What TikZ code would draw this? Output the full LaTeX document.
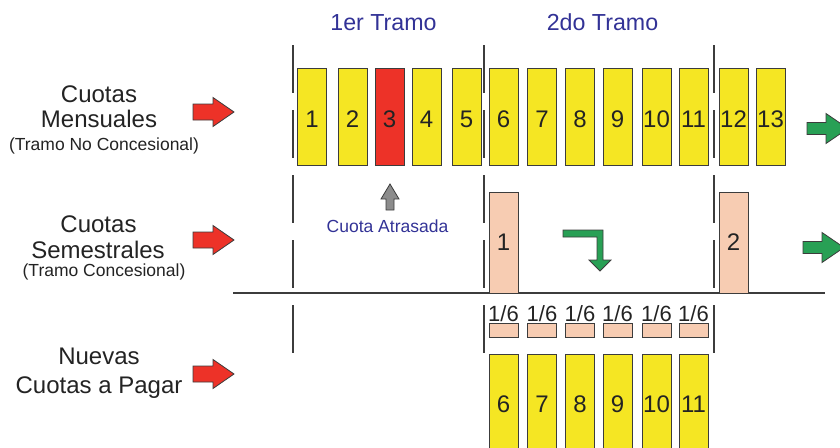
\documentclass[tikz,border=0pt]{standalone}
\usepackage{fontspec}
\setmainfont{Liberation Sans}

\definecolor{boxyellow}{RGB}{245,230,35}
\definecolor{boxred}{RGB}{237,50,40}
\definecolor{boxpeach}{RGB}{247,204,178}
\definecolor{arrowgreen}{RGB}{40,160,85}
\definecolor{arrowgray}{RGB}{140,140,140}
\definecolor{titleblue}{RGB}{50,50,150}
\definecolor{outline}{RGB}{60,60,60}
\definecolor{ink}{RGB}{35,35,35}

\newcommand\bigtxt{\fontsize{24}{26}\selectfont}
\newcommand\subtxt{\fontsize{17.5}{20}\selectfont}
\newcommand\fractxt{\fontsize{22}{24}\selectfont}

\tikzset{
  pics/redarrow/.style={code={
    \draw[draw=outline,fill=boxred,line width=0.8pt]
      (0,-8) -- (20,-8) -- (20,-14.5) -- (41,0) -- (20,14.5) -- (20,8) -- (0,8) -- cycle;}},
  pics/greenarrow/.style={code={
    \draw[draw=outline,fill=arrowgreen,line width=0.8pt]
      (0,-6) -- (19,-6) -- (19,-15) -- (41,0) -- (19,15) -- (19,6) -- (0,6) -- cycle;}},
}

\begin{document}
\begin{tikzpicture}[x=1pt,y=-1pt,
  cuota/.style={draw=outline,line width=1pt,minimum width=29pt,minimum height=97pt,
    inner sep=0pt,font=\bigtxt,text=ink},
  semestre/.style={cuota,fill=boxpeach,minimum height=101pt},
  sexto/.style={draw=outline,line width=1pt,fill=boxpeach,minimum width=29pt,
    minimum height=14pt,inner sep=0pt},
  sextotxt/.style={font=\fractxt,text=ink,inner sep=0pt,anchor=base},
  rowlabel/.style={font=\bigtxt,text=ink,inner sep=0pt,anchor=base},
  rowsub/.style={font=\subtxt,text=ink,inner sep=0pt,anchor=base},
  tramo/.style={font=\fontsize{23.2}{26}\selectfont,text=titleblue,inner sep=0pt,anchor=base},
  sep/.style={draw=outline,line width=1.2pt,dash pattern=on 47.5pt off 17.5pt}]
\useasboundingbox (0,0) rectangle (840,447);

% row labels
\node[rowlabel] (men1) at (99,102) {Cuotas};
\node[rowlabel] (men2) at (99,127) {Mensuales};
\node[rowsub] (men3) at (104,150) {(Tramo No Concesional)};
\node[rowlabel] (sem1) at (98.5,232) {Cuotas};
\node[rowlabel] (sem2) at (98,258) {Semestrales};
\node[rowsub] (sem3) at (104,276.5) {(Tramo Concesional)};
\node[rowlabel] (nue1) at (99,364) {Nuevas};
\node[rowlabel] (nue2) at (99,393) {Cuotas a Pagar};
\pic at (193,112) {redarrow};
\pic at (193,240) {redarrow};
\pic at (193,374) {redarrow};

% tramos
\node[tramo] (tramo1) at (383.5,30) {1er Tramo};
\node[tramo] (tramo2) at (602.5,30) {2do Tramo};
\foreach \x in {293,484,714}
  \draw[sep] (\x,45) -- (\x,353);
\draw[outline,line width=2pt] (233,293) -- (825,293);

% monthly quotas
\foreach \n/\x/\c in {1/312/boxyellow,2/352.5/boxyellow,3/389.5/boxred,4/426.5/boxyellow,
    5/466.5/boxyellow,6/503.5/boxyellow,7/542/boxyellow,8/580/boxyellow,9/617.5/boxyellow,
    10/656.5/boxyellow,11/693.5/boxyellow,12/733.5/boxyellow,13/770.5/boxyellow}
  \node[cuota,fill=\c,text height=22pt,text depth=0pt] (m\n) at (\x,116.5) {\n};
\pic at (807,128.5) {greenarrow};

% late quota
\draw[draw=outline,fill=arrowgray,line width=0.8pt]
  (386,210) -- (386,199) -- (381,199) -- (390,184) -- (399,199) -- (394,199) -- (394,210) -- cycle;
\node[font=\subtxt,text=titleblue,inner sep=0pt,anchor=base] (atrasada) at (387.5,232.5) {Cuota Atrasada};

% semestral quotas
\node[semestre] (s1) at (503.5,242.5) {1};
\node[semestre] (s2) at (733.5,242.5) {2};
\pic at (803,247.5) {greenarrow};
\draw[draw=outline,fill=arrowgreen,line width=0.8pt]
  (563,230) -- (603,230) -- (603,260) -- (611,260) -- (600,271) -- (589,260) -- (597,260)
  -- (597,237) -- (563,237) -- cycle;

% new quotas
\foreach \n/\x in {6/503.5,7/542,8/580,9/617.5,10/656.5,11/693.5} {
  \node[sextotxt] (t\n) at (\x,321) {1/6};
  \node[sexto] (f\n) at (\x,330) {};
  \node[cuota,fill=boxyellow,minimum height=101pt] (n\n) at (\x,404.5) {\n};
}
\end{tikzpicture}
\end{document}
